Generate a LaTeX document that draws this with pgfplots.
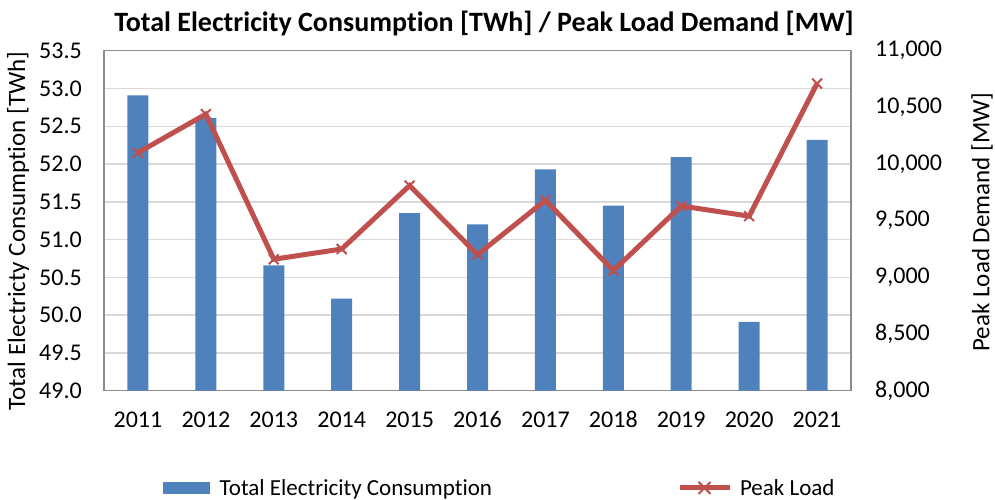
\documentclass[border=0pt]{standalone}
\usepackage{pgfplots}
\pgfplotsset{compat=1.18}
\usepackage{fontspec}
\setmainfont{Carlito}[Ligatures=NoCommon]
\definecolor{barblue}{RGB}{79,129,189}
\definecolor{linered}{RGB}{192,80,77}
\definecolor{gridgray}{RGB}{217,217,217}
\definecolor{framegray}{RGB}{140,140,140}
\begin{document}
\begin{tikzpicture}[x=1pt,y=1pt]
\path[use as bounding box] (0,0) rectangle (995,499);
\begin{axis}[
  at={(104pt,108.3pt)}, anchor=south west,
  scale only axis, width=747pt, height=340pt,
  xmin=-0.5, xmax=10.5, ymin=49, ymax=53.5,
  xtick={0,1,2,3,4,5,6,7,8,9,10},
  xticklabels={2011,2012,2013,2014,2015,2016,2017,2018,2019,2020,2021},
  ytick={49,49.5,50,50.5,51,51.5,52,52.5,53,53.5},
  ymajorgrids, grid style={gridgray, line width=1.5pt},
  axis line style={framegray, line width=1.2pt},
  major tick length=0pt,
  tick label style={font=\fontsize{24}{24}\selectfont, inner sep=0pt},
  xticklabel style={text height=16pt, text depth=0pt},
  /pgf/number format/assume math mode=true,
  yticklabel style={/pgf/number format/.cd, fixed, fixed zerofill, precision=1},
  yticklabel shift=22pt,
  xticklabel shift=21pt,
]
\addplot[ybar, bar width=21pt, fill=barblue, draw=none] coordinates {
(0,52.91) (1,52.61) (2,50.66) (3,50.22) (4,51.35) (5,51.20)
(6,51.93) (7,51.45) (8,52.09) (9,49.91) (10,52.32)};
\end{axis}
\begin{axis}[
  at={(104pt,108.3pt)}, anchor=south west,
  scale only axis, width=747pt, height=340pt,
  xmin=-0.5, xmax=10.5, ymin=8000, ymax=11000,
  axis x line=none, axis y line*=right,
  y axis line style={draw=none},
  ytick={8000,8500,9000,9500,10000,10500,11000},
  scaled y ticks=false,
  major tick length=0pt,
  tick label style={font=\fontsize{24}{24}\selectfont, inner sep=0pt},
  /pgf/number format/assume math mode=true,
  yticklabel style={/pgf/number format/.cd, fixed, 1000 sep={,}},
  yticklabel shift=24pt,
  legend columns=2,
  legend style={draw=none, fill=none, at={(0.530,-0.286)}, anchor=center,
    font=\fontsize{23}{23}\selectfont, inner sep=0pt,
    /tikz/every even column/.append style={column sep=183pt}},
  legend cell align=left,
]
\addlegendimage{legend image code/.code={\fill[barblue] (-4pt,-5.5pt) rectangle (42pt,5.5pt);}}
\addlegendentry{\hspace{8pt}Total Electricity Consumption}
\addplot[linered, line width=5pt, mark=x, mark size=7pt, mark options={line width=2pt},
  legend image code/.code={\draw[linered, line width=5pt] (0pt,0pt) -- (50pt,0pt);
  \draw[linered, line width=2pt] (19pt,-6pt) -- (31pt,6pt) (19pt,6pt) -- (31pt,-6pt);}]
 coordinates {
(0,10100) (1,10440) (2,9160) (3,9250) (4,9810) (5,9200)
(6,9680) (7,9060) (8,9630) (9,9540) (10,10710)};
\addlegendentry{\hspace{6pt}Peak Load}
\end{axis}
\node[font=\bfseries\fontsize{28}{28}\selectfont] at (484,476) {Total Electricity Consumption [TWh] / Peak Load Demand [MW]};
\node[rotate=90, font=\fontsize{25}{25}\selectfont] at (18,268) {Total Electricty Consumption [TWh]};
\node[rotate=90, font=\fontsize{25}{25}\selectfont] at (982,277) {Peak Load Demand [MW]};
\end{tikzpicture}
\end{document}
